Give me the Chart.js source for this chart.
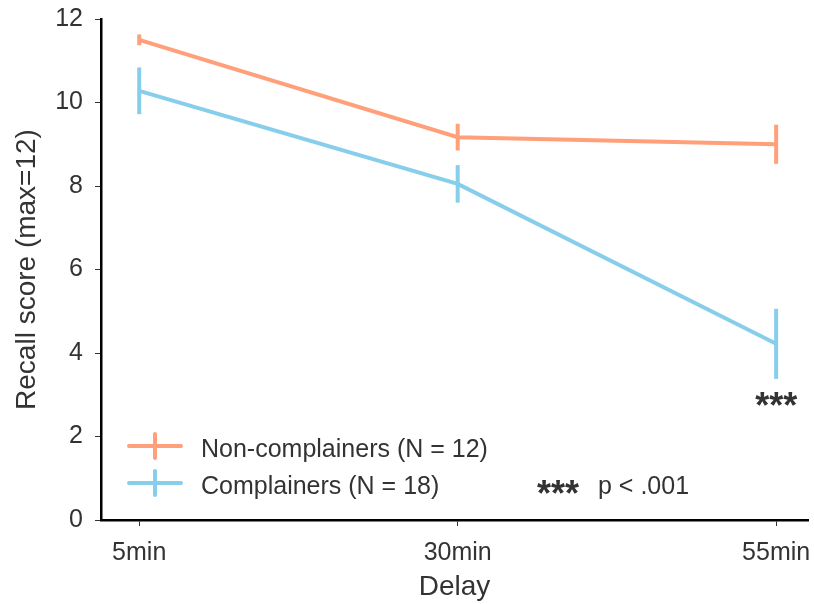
<!DOCTYPE html>
<html lang="en">
<head>
  <meta charset="UTF-8">
  <title>Recall score by delay</title>
  <script src="https://cdn.jsdelivr.net/npm/chart.js"></script>
  <style>
    html, body { margin: 0; padding: 0; background: #fff; }
    #wrap { width: 814px; height: 604px; }
  </style>
</head>
<body>
  <div id="wrap"><canvas id="recallChart" width="814" height="604"></canvas></div>

  <script>
    // data
    const delays = ['5min', '30min', '55min'];
    const nonComplainers = [11.5, 9.17, 9.0];
    const nonComplainersErr = [0.13, 0.32, 0.47];
    const complainers = [10.28, 8.05, 4.22];
    const complainersErr = [0.56, 0.45, 0.84];
    const yTicks = [0, 2, 4, 6, 8, 10, 12];

    const orange = '#ffa07a';
    const blue = '#87ceeb';
    const textColor = '#333333';
    const font = 'Liberation Sans, Arial, sans-serif';

    function toPoints(values) {
      return values.map((v, i) => ({ x: i, y: v }));
    }

    // vertical error bars, no caps
    const errorBars = {
      id: 'errorBars',
      afterDatasetsDraw(chart) {
        const ctx = chart.ctx;
        const xs = chart.scales.x, ys = chart.scales.y;
        chart.data.datasets.forEach(ds => {
          ctx.save();
          ctx.strokeStyle = ds.borderColor;
          ctx.lineWidth = 4;
          ds.data.forEach((p, i) => {
            const e = ds.errors[i];
            const px = xs.getPixelForValue(p.x);
            ctx.beginPath();
            ctx.moveTo(px, ys.getPixelForValue(p.y - e));
            ctx.lineTo(px, ys.getPixelForValue(p.y + e));
            ctx.stroke();
          });
          ctx.restore();
        });
      }
    };

    // legend box in the lower left plus the significance notes
    const notes = {
      id: 'notes',
      afterDraw(chart) {
        const ctx = chart.ctx;
        const xs = chart.scales.x, ys = chart.scales.y;
        const left = chart.chartArea.left;
        const items = [
          { label: 'Non-complainers (N = 12)', color: orange, y: 446 },
          { label: 'Complainers (N = 18)', color: blue, y: 483 }
        ];
        ctx.save();
        items.forEach(it => {
          ctx.strokeStyle = it.color;
          ctx.lineWidth = 4;
          ctx.lineCap = 'round';
          ctx.beginPath();
          ctx.moveTo(left + 28, it.y);
          ctx.lineTo(left + 80, it.y);
          ctx.moveTo(left + 54, it.y - 12);
          ctx.lineTo(left + 54, it.y + 12);
          ctx.stroke();
          ctx.fillStyle = textColor;
          ctx.font = '25px ' + font;
          ctx.textAlign = 'left';
          ctx.textBaseline = 'alphabetic';
          ctx.fillText(it.label, left + 100, it.y + 11);
        });
        // significance marks
        ctx.fillStyle = textColor;
        ctx.font = 'bold 36px ' + font;
        ctx.textAlign = 'center';
        ctx.textBaseline = 'alphabetic';
        ctx.fillText('***', xs.getPixelForValue(2), ys.getPixelForValue(2.7) + 11);
        ctx.textAlign = 'left';
        ctx.fillText('***', 537, 506);
        ctx.font = '25px ' + font;
        ctx.fillText('p < .001', 598, 494);
        ctx.restore();
      }
    };

    const ctx = document.getElementById('recallChart').getContext('2d');
    new Chart(ctx, {
      type: 'line',
      data: {
        datasets: [
          {
            label: 'Non-complainers (N = 12)',
            data: toPoints(nonComplainers),
            errors: nonComplainersErr,
            borderColor: orange,
            borderWidth: 4,
            pointRadius: 0,
            tension: 0
          },
          {
            label: 'Complainers (N = 18)',
            data: toPoints(complainers),
            errors: complainersErr,
            borderColor: blue,
            borderWidth: 4,
            pointRadius: 0,
            tension: 0
          }
        ]
      },
      options: {
        responsive: false,
        animation: false,
        layout: { padding: { top: 19, right: 6, left: 0, bottom: 0 } },
        plugins: {
          legend: { display: false },
          tooltip: { enabled: false }
        },
        scales: {
          x: {
            type: 'linear',
            min: -0.12,
            max: 2.1,
            afterBuildTicks: axis => { axis.ticks = delays.map((_, i) => ({ value: i })); },
            afterFit: axis => {
              axis.height = 84;
              axis.paddingLeft = 0;
              axis.paddingRight = 0;
            },
            ticks: {
              callback: v => delays[v],
              color: textColor,
              font: { family: font, size: 25 },
              padding: 12,
              maxRotation: 0
            },
            grid: { drawOnChartArea: false, drawTicks: true, tickLength: 6, color: '#333', lineWidth: 1 },
            border: { display: true, color: '#000', width: 2.5 },
            title: {
              display: true,
              text: 'Delay',
              color: textColor,
              font: { family: font, size: 28 },
              padding: { top: 0, bottom: 0 }
            }
          },
          y: {
            min: 0,
            max: 12,
            afterBuildTicks: axis => { axis.ticks = yTicks.map(v => ({ value: v })); },
            afterFit: axis => {
              axis.width = 101;
              axis.paddingTop = 0;
              axis.paddingBottom = 0;
            },
            ticks: {
              color: textColor,
              font: { family: font, size: 25 },
              padding: 12
            },
            grid: { drawOnChartArea: false, drawTicks: true, tickLength: 6, color: '#333', lineWidth: 1 },
            border: { display: true, color: '#000', width: 2.5 },
            title: {
              display: true,
              text: 'Recall score (max=12)',
              color: textColor,
              font: { family: font, size: 28 },
              padding: { top: 10, bottom: 0 }
            }
          }
        }
      },
      plugins: [errorBars, notes]
    });
  </script>
</body>
</html>
